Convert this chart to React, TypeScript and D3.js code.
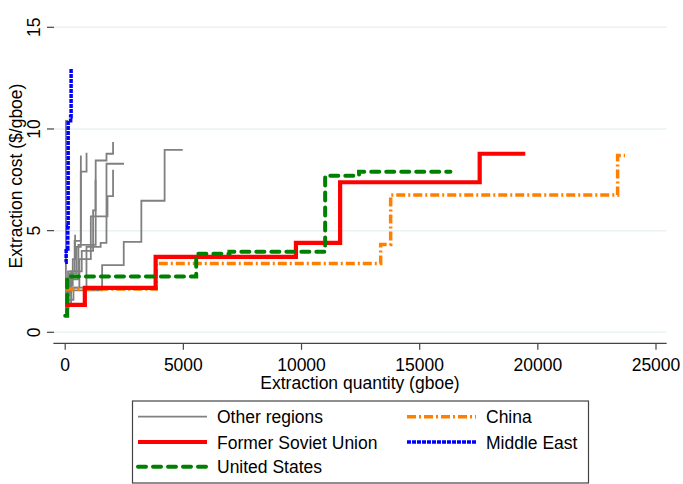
import React from "react";
import * as d3 from "d3";

type Pt = [number, number];

const xTicks = [0, 5000, 10000, 15000, 20000, 25000];
const yTicks = [0, 5, 10, 15];

const otherRegions: Pt[][] = [
  [[0, 1.0], [30, 10.4], [130, 10.4]],
  [[0, 2.06], [1563, 3.3], [2477, 4.45], [3222, 6.47], [4207, 8.97], [4975, 8.97]],
  [[0, 1.4], [250, 2.6], [560, 4.3], [1290, 8.45], [1747, 8.78], [2025, 9.36]],
  [[0, 1.8], [200, 2.9], [480, 4.2], [660, 7.9], [903, 8.83]],
  [[0, 1.3], [120, 3.0], [400, 4.5], [662, 8.7]],
  [[0, 2.2], [600, 3.6], [1084, 5.7], [1790, 6.7], [2025, 8.0]],
  [[0, 1.6], [350, 2.2], [900, 4.2], [1500, 4.4], [1747, 8.29], [2490, 8.29]],
  [[0, 1.2], [150, 2.3], [320, 3.6], [420, 4.8]],
  [[0, 2.0], [250, 3.0], [700, 4.0], [1180, 6.0], [1283, 7.5]],
];
const formerSovietUnion: Pt[] = [
  [0, 1.35], [831, 2.18], [3827, 3.71], [9764, 4.4], [11633, 7.38], [17540, 8.78], [19468, 8.78],
];
const unitedStates: Pt[] = [
  [0, 0.82], [84, 2.75], [5544, 3.86], [6949, 3.96], [11000, 7.7], [12434, 7.9], [16300, 7.9],
];
const china: Pt[] = [
  [0, 2.13], [3850, 3.38], [13350, 4.32], [13772, 6.75], [23376, 8.69], [23687, 8.69],
];
const middleEast: Pt[] = [
  [0, 3.45], [40, 4.1], [110, 5.2], [125, 10.4], [230, 10.6], [250, 13.0],
];

const FONT = "'Liberation Sans', Arial, sans-serif";

export default function App() {
  const W = 683, H = 484;
  const x = d3.scaleLinear().domain([0, 25000]).range([65.2, 656]);
  const y = d3.scaleLinear().domain([0, 15]).range([332.3, 27.3]);
  const line = d3
    .line<Pt>()
    .x((d) => x(d[0]))
    .y((d) => y(d[1]))
    .curve(d3.curveStepAfter);

  const left = x(-500), right = x(25450);
  const axisY = 343.3;

  const styles = {
    other: { stroke: "#808080", strokeWidth: 1.8, dash: undefined as string | undefined, cap: "butt" },
    fsu: { stroke: "#ff0000", strokeWidth: 4.2, dash: undefined as string | undefined, cap: "butt" },
    us: { stroke: "#008000", strokeWidth: 4, dash: "8 7", cap: "round" },
    china: { stroke: "#ff8000", strokeWidth: 3.5, dash: "9 3 2 3", cap: "butt" },
    me: { stroke: "#0000ff", strokeWidth: 3.5, dash: "4 1", cap: "butt" },
  };

  const legendItems = [
    { label: "Other regions", s: styles.other, col: 0, row: 0 },
    { label: "China", s: styles.china, col: 1, row: 0 },
    { label: "Former Soviet Union", s: styles.fsu, col: 0, row: 1 },
    { label: "Middle East", s: styles.me, col: 1, row: 1 },
    { label: "United States", s: styles.us, col: 0, row: 2 },
  ];
  const colX = [138, 407];
  const rowY = [416.7, 442, 466.7];

  const path = (d: Pt[], s: any, key: string) => (
    <path
      key={key}
      d={line(d) || ""}
      fill="none"
      stroke={s.stroke}
      strokeWidth={s.strokeWidth}
      strokeDasharray={s.dash}
      strokeLinecap={s.cap}
    />
  );

  return (
    <svg
      width={W}
      height={H}
      style={{ position: "absolute", left: 0, top: 0, display: "block", background: "#fff" }}
      fontFamily={FONT}
    >
      <rect x={0} y={0} width={W} height={H} fill="#fff" />
      {yTicks.map((t) => (
        <g key={"g" + t}>
          <line x1={left} x2={right} y1={y(t)} y2={y(t)} stroke="#eaf2f3" strokeWidth={1.5} />
          <line x1={47} x2={54} y1={y(t)} y2={y(t)} stroke="#444" strokeWidth={1.2} />
          <text
            transform={`translate(40,${y(t)}) rotate(-90)`}
            textAnchor="middle"
            fontSize={17.5}
            fill="#000"
          >
            {t}
          </text>
        </g>
      ))}
      <text
        transform={`translate(21.5,176) rotate(-90)`}
        textAnchor="middle"
        fontSize={17.5}
        fill="#000"
      >
        Extraction cost ($/gboe)
      </text>

      <line x1={left} x2={right} y1={axisY} y2={axisY} stroke="#444" strokeWidth={1.2} />
      {xTicks.map((t) => (
        <g key={"x" + t}>
          <line x1={x(t)} x2={x(t)} y1={axisY} y2={axisY + 6.5} stroke="#444" strokeWidth={1.2} />
          <text x={x(t)} y={370.5} textAnchor="middle" fontSize={17.5} fill="#000">
            {t}
          </text>
        </g>
      ))}
      <text x={360} y={389} textAnchor="middle" fontSize={17.5} fill="#000">
        Extraction quantity (gboe)
      </text>

      {otherRegions.map((d, i) => path(d, styles.other, "o" + i))}
      {path(china, styles.china, "china")}
      {path(formerSovietUnion, styles.fsu, "fsu")}
      {path(middleEast, styles.me, "me")}
      {path(unitedStates, styles.us, "us")}

      <rect x={132.5} y={401} width={456} height={82} fill="#fff" stroke="#444" strokeWidth={1.2} />
      {legendItems.map((it) => (
        <g key={it.label}>
          <line
            x1={colX[it.col]}
            x2={colX[it.col] + 69}
            y1={rowY[it.row]}
            y2={rowY[it.row]}
            stroke={it.s.stroke}
            strokeWidth={it.s.strokeWidth}
            strokeDasharray={it.s.dash}
            strokeLinecap={it.s.cap as any}
          />
          <text x={colX[it.col] + 79} y={rowY[it.row] + 6.5} fontSize={17.5} fill="#000">
            {it.label}
          </text>
        </g>
      ))}
    </svg>
  );
}
